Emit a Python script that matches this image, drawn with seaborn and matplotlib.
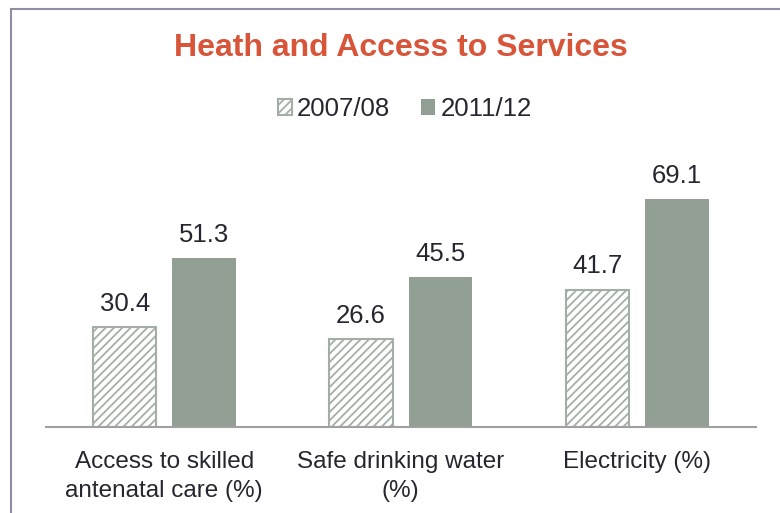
import pandas as pd
import seaborn as sns
import matplotlib.pyplot as plt
from matplotlib.patches import Rectangle

categories = ["Access to skilled\nantenatal care (%)", "Safe drinking water\n(%)", "Electricity (%)"]
years = ["2007/08", "2011/12"]
values_0708 = [30.4, 26.6, 41.7]
values_1112 = [51.3, 45.5, 69.1]

df = pd.DataFrame({
    "category": categories * 2,
    "year": [years[0]] * 3 + [years[1]] * 3,
    "value": values_0708 + values_1112,
})

sns.set_theme(style="white")
plt.rcParams['font.family'] = ['Liberation Sans', 'DejaVu Sans']
plt.rcParams['hatch.linewidth'] = 1.3

TEXT = '#262630'
GREEN = '#929F94'
EDGE = '#A3AFA5'
HATCH = '#B4BDB5'

fig = plt.figure(figsize=(7.8, 5.13), dpi=100)
ax = fig.add_axes([0.059, 0.1676, 0.9096, 0.54])

sns.barplot(data=df, x="category", y="value", hue="year", palette=["white", GREEN],
            width=0.67, gap=0.2, saturation=1, legend=False, ax=ax)

for bar in ax.containers[0]:
    bar.set_hatch('////')
    bar.set_edgecolor(EDGE)
    if hasattr(bar, 'set_hatchcolor'):
        bar.set_hatchcolor(HATCH)
    bar.set_linewidth(1.5)
for bar in ax.containers[1]:
    bar.set_linewidth(0)

for c in ax.containers:
    ax.bar_label(c, fmt='%.1f', padding=8, fontsize=18.5, color=TEXT)

ax.set_ylim(0, 84)
ax.set_yticks([])
ax.set_xlabel('')
ax.set_ylabel('')
ax.tick_params(axis='x', length=0, pad=17, labelsize=17.5, labelcolor=TEXT)
for lbl in ax.get_xticklabels():
    lbl.set_linespacing(1.45)
sns.despine(ax=ax, left=True)
ax.spines['bottom'].set_color('#A0A0A0')
ax.spines['bottom'].set_linewidth(1.5)

fig.text(0.514, 1 - 48 / 513, "Heath and Access to Services", ha='center', va='center',
         fontsize=23, fontweight='bold', color='#D8553A')

fig.legend(handles=[ax.containers[0][0], ax.containers[1][0]], labels=years,
           loc='center', bbox_to_anchor=(0.519, 1 - 109 / 513), ncol=2, frameon=False,
           fontsize=18.5, handlelength=0.55, handleheight=0.55, handletextpad=0.2,
           columnspacing=1.2, labelcolor=TEXT)

# border of the original chart box (only left and top edges visible)
fig.add_artist(Rectangle((11 / 780, -0.1), 1.2, 1.1 - 9 / 513, transform=fig.transFigure,
                         facecolor='none', edgecolor='#8E8EA3', linewidth=1.5))

fig.savefig('out.png', dpi=100)
